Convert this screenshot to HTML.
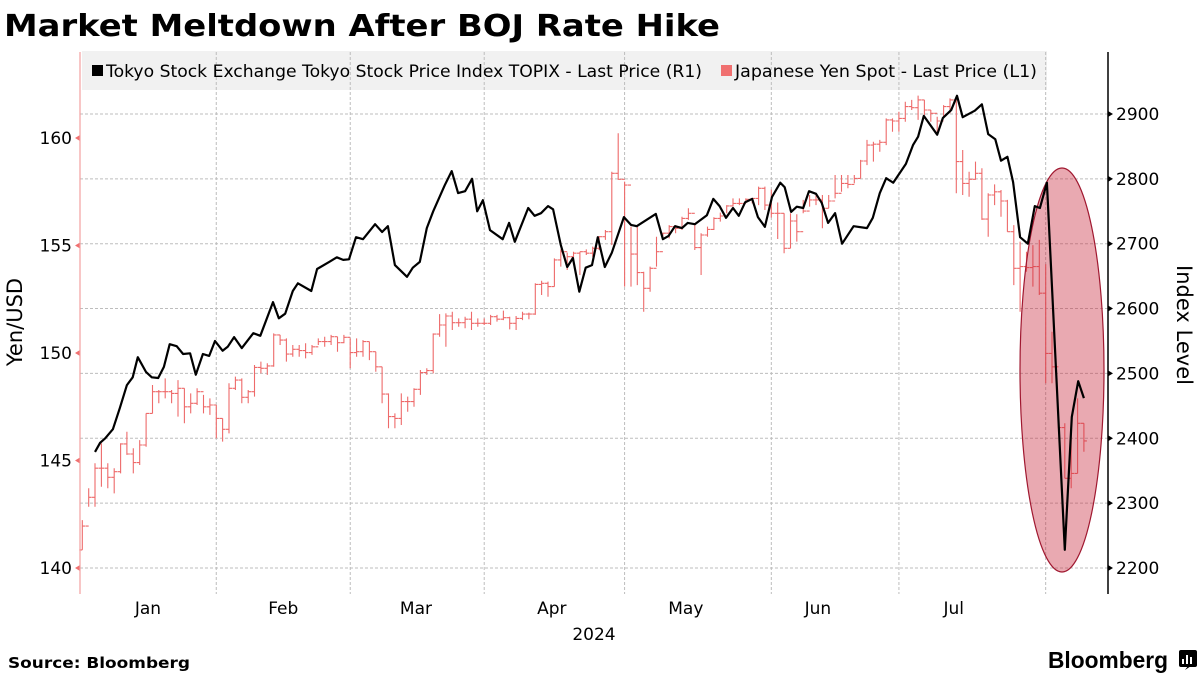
<!DOCTYPE html>
<html><head><meta charset="utf-8"><style>
body{margin:0;background:#fff;width:1200px;height:675px;overflow:hidden;font-family:"Liberation Sans","DejaVu Sans",sans-serif;}
svg text{font-family:"DejaVu Sans","Liberation Sans",sans-serif;}
</style></head><body>
<svg id="chart" width="1200" height="675" xmlns="http://www.w3.org/2000/svg">
<text x="4" y="36" font-size="30" font-weight="bold" fill="#000" textLength="716" lengthAdjust="spacingAndGlyphs">Market Meltdown After BOJ Rate Hike</text>
<rect x="82" y="51" width="965" height="39" fill="#f1f1f1"/>
<g id="grid"></g>
<g id="legend">
<rect x="92" y="65" width="11" height="11" fill="#000"/>
<text x="106" y="77" font-size="16.5" fill="#000" textLength="596" lengthAdjust="spacingAndGlyphs">Tokyo Stock Exchange Tokyo Stock Price Index TOPIX - Last Price (R1)</text>
<rect x="721" y="65" width="11" height="11" fill="#f07070"/>
<text x="735" y="77" font-size="16.5" fill="#000" textLength="302" lengthAdjust="spacingAndGlyphs">Japanese Yen Spot - Last Price (L1)</text>
</g>
<g id="yen"></g>
<ellipse cx="1062" cy="370" rx="42" ry="202" fill="rgba(200,40,60,0.4)" stroke="#a01830" stroke-width="1.2"/>
<g id="topix"></g>
<g id="axes"></g>
<text x="8" y="668" font-size="15" font-weight="bold" fill="#000" textLength="182" lengthAdjust="spacingAndGlyphs">Source: Bloomberg</text>
<text x="1048" y="668" font-size="23" font-weight="bold" fill="#000" textLength="120" lengthAdjust="spacingAndGlyphs" style="font-family:'Liberation Sans',sans-serif">Bloomberg</text>
<g>
<rect x="1179" y="650" width="18" height="17" rx="2" fill="#000"/>
<path d="M1185 670 L1188 666 L1191 666Z" fill="#000"/>
<rect x="1182" y="659" width="2" height="5" fill="#fff"/><rect x="1186" y="655" width="2" height="9" fill="#fff"/><rect x="1190" y="657" width="2" height="7" fill="#fff"/>
</g>
</svg>
<script>
// TOPIX (right axis): trading-day index and level
const topixIdx=[3,3.8,4.6,5.8,6.9,8,8.9,9.7,11,11.9,12.9,13.8,14.7,15.8,16.8,17.9,18.8,19.9,20.9,21.8,23,23.8,24.8,26,27.8,28.9,30.9,31.8,32.8,34,34.8,36.9,37.8,39.7,40.9,41.9,42.8,43.9,45,46.9,48,48.9,50,51.9,52.8,53.9,55,56,57.8,58.9,59.9,61,62.1,62.9,63.8,64.9,66.9,67.9,68.8,70.9,71.9,72.9,74,74.8,76,77,77.9,78.9,79.9,80.9,81.8,82.9,84,85.9,87,87.9,90.9,92,92.9,93.9,95,95.9,97,98.9,99.9,100.9,101.9,103,103.9,104.9,106,106.9,108,109.1,110.4,111.1,112.1,113,114,114.9,116,116.9,117.9,119,120.1,121.9,124,124.9,126,127,128.1,130.1,131.2,132,132.9,135,135.9,137.2,138.1,139,140.9,142,143,144.1,145,146,146.9,148,149.2,150.3,151.1,152.2,155,156.1,157.1,158];
const topixVal=[2379,2393,2400,2414,2447,2482,2494,2525,2502,2494,2493,2510,2545,2542,2530,2531,2498,2530,2527,2550,2535,2541,2556,2539,2562,2558,2610,2585,2592,2627,2639,2627,2661,2672,2679,2675,2676,2710,2707,2730,2718,2727,2667,2649,2663,2672,2724,2750,2790,2812,2778,2781,2800,2750,2767,2721,2707,2732,2703,2755,2743,2747,2758,2753,2698,2664,2678,2626,2663,2667,2710,2664,2686,2741,2729,2727,2746,2707,2712,2727,2724,2732,2730,2744,2769,2758,2740,2755,2743,2764,2769,2741,2726,2772,2794,2787,2749,2757,2755,2781,2777,2763,2732,2747,2700,2727,2724,2740,2778,2801,2794,2823,2852,2865,2897,2868,2894,2906,2928,2895,2905,2915,2869,2861,2828,2834,2795,2710,2700,2758,2755,2794,2228,2433,2488,2462];
// Yen (left axis): daily bars from index 1
const yenStart=1;
const yenHigh=[142.23,143.71,144.87,145.80,144.87,144.64,145.80,146.34,145.57,145.95,147.19,148.51,148.28,148.82,148.28,148.74,148.36,148.12,148.36,148.05,147.89,147.58,146.96,148.59,148.90,148.82,148.28,149.44,149.60,149.52,150.91,150.84,150.68,150.37,150.37,150.45,150.37,150.68,150.76,150.84,150.76,150.84,150.68,150.68,150.60,150.53,150.06,149.36,148.12,147.19,148.12,147.97,148.36,149.21,149.29,150.91,151.81,151.84,151.92,151.61,151.69,151.92,151.61,151.61,151.77,151.77,
151.97,151.69,151.72,151.92,151.88,153.24,153.36,153.32,154.40,154.82,154.67,154.71,154.71,154.82,154.95,155.44,155.72,158.43,160.22,157.97,155.88,155.88,153.78,154.02,155.41,155.60,155.95,155.95,156.34,156.73,156.03,155.57,155.88,156.31,156.53,156.88,157.19,157.19,157.19,157.19,157.74,157.74,157.6,157.0,
156.50,156.50,156.45,157.12,157.35,157.35,157.35,157.35,158.28,158.28,158.28,158.28,158.98,159.91,159.83,159.91,160.91,160.91,161.22,161.69,161.77,161.97,161.77,161.30,160.99,161.53,161.84,161.77,159.44,158.43,158.90,158.59,157.43,157.84,157.58,157.12,155.95,155.18,154.71,155.02,155.26,154.13,150.99,146.73,146.73,146.65,147.89,146.73];
const yenLow=[140.84,142.85,142.85,143.78,143.71,143.47,144.40,145.26,144.40,144.79,145.64,147.19,147.66,147.89,147.66,147.04,146.73,147.19,147.58,147.19,147.12,146.03,145.88,146.26,148.28,147.66,147.66,147.97,149.05,148.98,149.36,150.37,149.60,149.83,149.83,149.75,149.91,150.37,150.29,150.37,150.06,150.45,149.29,149.83,149.83,149.67,149.13,147.66,146.50,146.50,146.65,147.27,147.50,148.05,148.98,149.05,150.76,150.29,151.07,151.22,151.15,151.07,151.22,151.30,151.30,151.46,
151.53,151.10,151.07,151.53,151.57,151.77,152.70,152.62,153.09,154.02,153.86,154.09,153.63,154.56,154.48,154.79,155.26,155.02,158.05,153.09,153.09,153.16,151.92,152.85,154.02,155.33,155.33,155.57,155.72,156.19,154.79,153.63,155.41,155.72,156.11,156.50,156.81,156.88,156.96,156.96,156.88,156.65,156.3,155.3,
154.64,154.87,155.18,156.50,156.81,156.88,155.80,156.73,157.19,157.50,157.66,157.89,158.12,158.74,158.90,159.36,159.67,160.29,160.29,160.76,161.30,160.84,161.07,160.76,160.14,160.91,161.15,157.43,157.35,157.27,158.05,156.19,155.41,156.88,156.34,155.64,153.16,151.92,153.78,153.09,152.70,148.59,148.59,146.50,144.17,143.71,144.40,145.41];
const yenClose=[141.95,143.29,144.64,144.64,144.22,144.48,145.77,145.30,144.90,145.72,147.19,148.20,148.20,148.20,148.12,148.36,147.50,147.66,148.20,147.50,147.58,146.96,146.45,148.36,148.74,147.94,148.20,149.33,149.29,149.40,150.84,150.60,149.95,150.17,150.11,150.02,150.29,150.53,150.53,150.76,150.48,150.73,150.02,150.06,150.53,150.06,149.36,148.09,147.04,146.96,147.74,147.74,148.31,149.09,149.18,150.88,151.30,151.72,151.41,151.41,151.57,151.38,151.38,151.38,151.69,151.57,
151.64,151.38,151.61,151.81,151.81,153.19,153.24,153.09,154.33,154.71,154.48,154.64,154.71,154.64,154.87,155.41,155.64,158.36,158.08,157.81,154.60,153.74,153.01,153.94,154.71,155.57,155.88,155.80,156.26,156.50,154.90,155.49,155.75,156.26,156.37,156.84,156.96,156.96,157.15,157.19,157.66,156.88,156.5,156.5,
154.87,156.14,155.64,156.60,157.12,157.12,156.73,157.07,157.43,157.89,157.84,158.12,158.93,159.67,159.71,159.80,160.84,160.79,160.91,161.46,161.41,161.77,161.30,161.15,160.79,161.46,161.77,158.90,157.89,158.08,158.36,156.23,157.35,157.50,157.07,155.64,153.94,154.02,153.97,154.02,152.78,149.98,149.36,146.53,144.17,144.40,146.73,145.91];
const yenTicks=[140,145,150,155,160];
const topixTicks=[2200,2300,2400,2500,2600,2700,2800,2900];
const monthLabels=["Jan","Feb","Mar","Apr","May","Jun","Jul"];
const monthStartIdx=[0,23,44,65,87,110,130,153];
const monthLabelIdx=[11.3,32.5,53.3,74.6,95.6,116.3,137.6];

const NS="http://www.w3.org/2000/svg";
const X0=80,X1=1108,YT=52,YB=594;
const xs=i=>75.9+6.38*i;
const yL=v=>568-(v-140)*21.5;
const yR=v=>568-(v-2200)*0.6486;
function mk(tag,attrs,parent){const e=document.createElementNS(NS,tag);for(const k in attrs)e.setAttribute(k,attrs[k]);parent.appendChild(e);return e;}
const grid=document.getElementById('grid'),axes=document.getElementById('axes');
topixTicks.forEach(t=>{
  const l=mk('line',{x1:X0,x2:X1,y1:yR(t),y2:yR(t),stroke:'#bdbdbd','stroke-dasharray':'3,2','stroke-width':1},grid);
  
  
  const tk=mk('path',{d:`M${X1} ${yR(t)-3}L${X1+5} ${yR(t)}L${X1} ${yR(t)+3}Z`,fill:'#000'},axes);
  
  
  const tx=mk('text',{x:X1+8,y:yR(t)+6,'font-size':17,fill:'#000'},axes);tx.textContent=t;
  
  
});
monthStartIdx.forEach((m,k)=>{
  if(k===0)return;
  const x=xs(m-1);
  const l=mk('line',{x1:x,x2:x,y1:YT,y2:YB,stroke:'#bdbdbd','stroke-dasharray':'3,2','stroke-width':1},grid);
  
  
});
monthLabels.forEach((m,k)=>{
  const t=mk('text',{x:xs(monthLabelIdx[k]),y:614,'font-size':17,'text-anchor':'middle',fill:'#000'},axes);t.textContent=m;
  
  
});
const yr=mk('text',{x:594,y:640,'font-size':17,'text-anchor':'middle',fill:'#000'},axes);yr.textContent='2024';


yenTicks.forEach(t=>{
  const tk=mk('path',{d:`M${X0} ${yL(t)-3}L${X0-5} ${yL(t)}L${X0} ${yL(t)+3}Z`,fill:'#f07070'},axes);
  
  
  const tx=mk('text',{x:X0-8,y:yL(t)+6,'font-size':17,'text-anchor':'end',fill:'#000'},axes);tx.textContent=t;
  
  
});
const la=mk('line',{x1:X0,x2:X0,y1:YT,y2:YB,stroke:'#f4a0a0','stroke-width':1.2},axes);


const ra=mk('line',{x1:X1,x2:X1,y1:YT,y2:YB,stroke:'#000','stroke-width':1.5},axes);


const lt=mk('text',{x:0,y:0,'font-size':21,'text-anchor':'middle',fill:'#000',transform:'translate(22,322) rotate(-90)'},axes);lt.textContent='Yen/USD';


const rt=mk('text',{x:0,y:0,'font-size':21,'text-anchor':'middle',fill:'#000',transform:'translate(1177,325) rotate(90)'},axes);rt.textContent='Index Level';


// yen bars
const yg=document.getElementById('yen');
let d='';
yenHigh.forEach((h,k)=>{
  const x=xs(yenStart+k);const o=k>0?yenClose[k-1]:yenLow[k];
  d+=`M${x.toFixed(1)} ${yL(h).toFixed(1)}V${yL(yenLow[k]).toFixed(1)}M${(x-3).toFixed(1)} ${yL(o).toFixed(1)}H${x.toFixed(1)}M${x.toFixed(1)} ${yL(yenClose[k]).toFixed(1)}H${(x+3).toFixed(1)}`;
});
const yp=mk('path',{d:d,stroke:'#ee6a6a','stroke-width':1.1,fill:'none'},yg);


// topix line
const tg=document.getElementById('topix');
const pts=topixIdx.map((i,k)=>xs(i).toFixed(1)+','+yR(topixVal[k]).toFixed(1)).join(' ');
const tl=mk('polyline',{points:pts,stroke:'#000','stroke-width':2.2,fill:'none','stroke-linejoin':'round'},tg);


</script>
</body></html>
